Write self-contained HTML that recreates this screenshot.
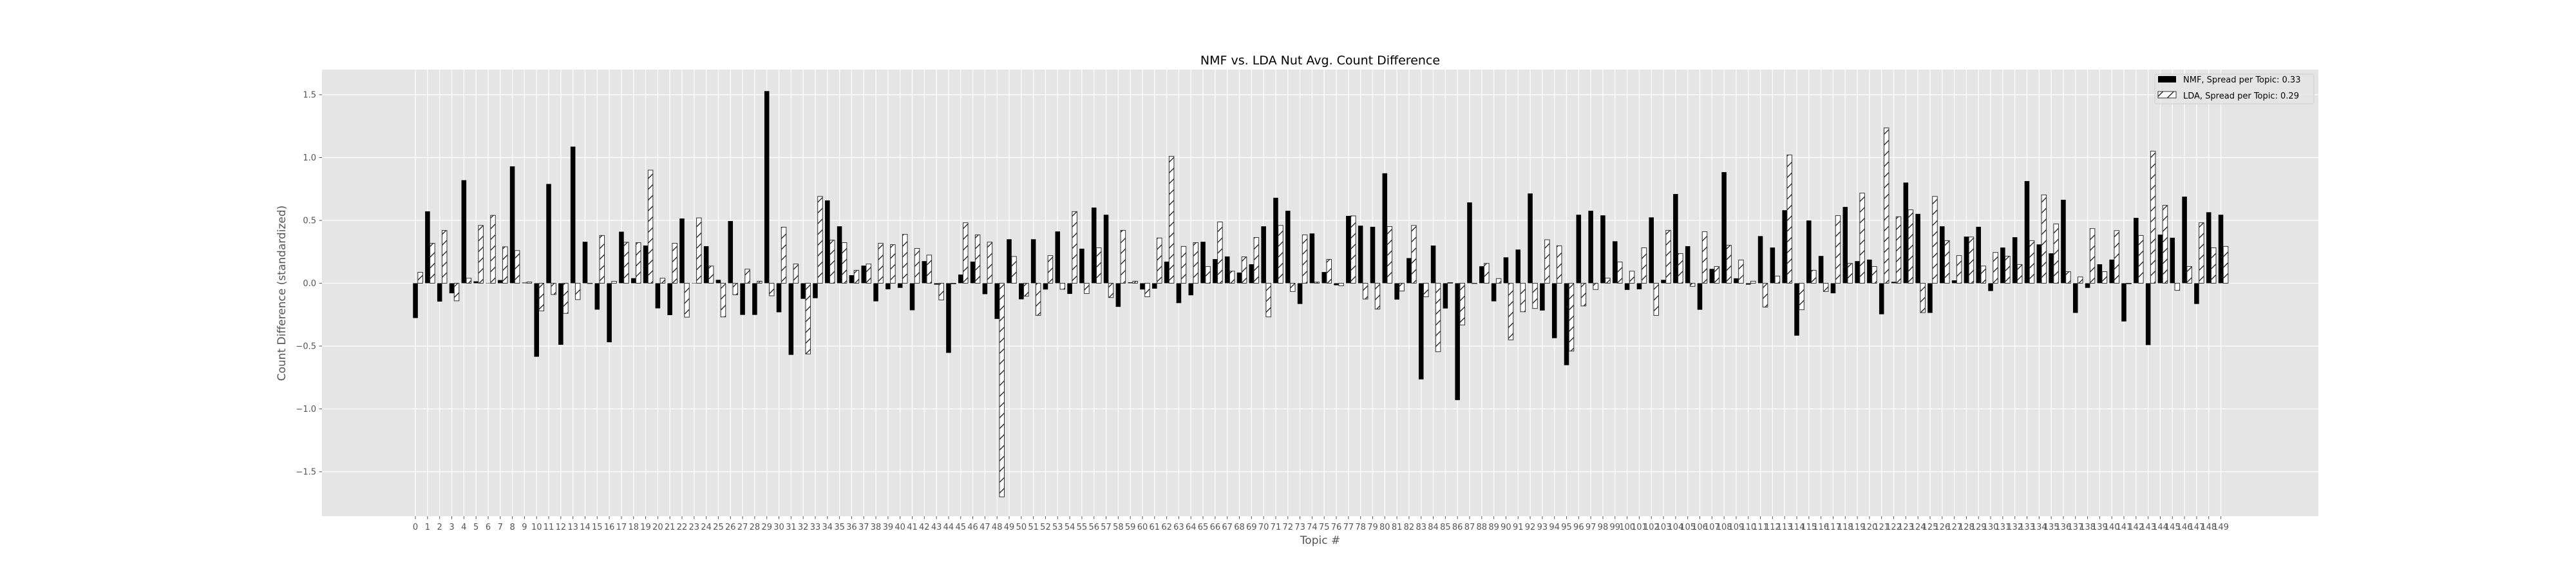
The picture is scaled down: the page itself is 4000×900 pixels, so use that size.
<!DOCTYPE html>
<html>
<head>
<meta charset="utf-8">
<style>
  html, body { margin: 0; padding: 0; background: #ffffff; }
  svg { display: block; font-family: "DejaVu Sans", "Liberation Sans", sans-serif; }
</style>
</head>
<body>
<svg id="chart" width="4000" height="900" viewBox="0 0 4000 900" xmlns="http://www.w3.org/2000/svg">
  <defs>
    <pattern id="hatch" patternUnits="userSpaceOnUse" width="16.67" height="16.67">
      <rect width="16.67" height="16.67" fill="#ffffff"/>
      <path d="M-2,2 L2,-2 M0,16.67 L16.67,0 M14.67,18.67 L18.67,14.67" stroke="#000" stroke-width="1.2"/>
    </pattern>
  </defs>
  <rect x="0" y="0" width="4000" height="900" fill="#ffffff"/>
  <rect x="500" y="108" width="3100" height="693" fill="#e5e5e5"/>
  <g id="grid"></g>
  <g id="bars"></g>
  <g id="axes"></g>
  <text x="2050" y="100" text-anchor="middle" font-size="19" fill="#000">NMF vs. LDA Nut Avg. Count Difference</text>
  <text x="2050" y="844" text-anchor="middle" font-size="17" fill="#555">Topic #</text>
  <text x="0" y="0" text-anchor="middle" font-size="17" fill="#555" transform="translate(443,455) rotate(-90)">Count Difference (standardized)</text>
  <g>
    <rect x="3346" y="115" width="247" height="46" rx="3" fill="#e5e5e5" stroke="#d0d0d0" stroke-width="1" fill-opacity="0.8"/>
    <rect x="3351" y="118" width="28" height="10" fill="#000"/>
    <text x="3390" y="128" font-size="13" fill="#000">NMF, Spread per Topic: 0.33</text>
    <rect x="3351" y="142" width="28" height="10" fill="url(#hatch)" stroke="#333" stroke-width="1"/>
    <text x="3390" y="153" font-size="13" fill="#000">LDA, Spread per Topic: 0.29</text>
  </g>
</svg>
<script>
const nmfValues = [
-0.277,0.572,-0.146,-0.08,0.82,0.015,0.0,0.025,0.93,0.005,
-0.585,0.79,-0.49,1.087,0.33,-0.21,-0.47,0.41,0.04,0.30,
-0.20,-0.254,0.515,0.0,0.295,0.027,0.495,-0.252,-0.252,1.529,
-0.231,-0.57,-0.124,-0.119,0.659,0.453,0.064,0.14,-0.144,-0.048,
-0.037,-0.215,0.176,-0.011,-0.554,0.069,0.172,-0.087,-0.284,0.35,
-0.128,0.35,-0.05,0.412,-0.085,0.275,0.602,0.545,-0.188,0.007,
-0.05,-0.043,0.172,-0.158,-0.096,0.33,0.192,0.213,0.085,0.151,
0.453,0.68,0.577,-0.165,0.396,0.089,-0.016,0.536,0.458,0.449,
0.875,-0.13,0.2,-0.765,0.30,-0.201,-0.93,0.643,0.135,-0.144,
0.206,0.268,0.714,-0.217,-0.437,-0.652,0.545,0.577,0.54,0.334,
-0.053,-0.048,0.524,0.027,0.71,0.295,-0.211,0.114,0.884,0.039,
-0.011,0.375,0.284,0.581,-0.417,0.499,0.217,-0.08,0.607,0.176,
0.188,-0.247,0.011,0.801,0.552,-0.236,0.453,0.023,0.371,0.449,
-0.062,0.284,0.366,0.813,0.309,0.238,0.664,-0.236,-0.037,0.151,
0.188,-0.304,0.52,-0.492,0.387,0.362,0.689,-0.165,0.565,0.545
];
const ldaValues = [
0.087,0.318,0.42,-0.14,0.04,0.46,0.54,0.29,0.26,0.01,
-0.22,-0.09,-0.24,-0.13,0.0,0.38,0.015,0.326,0.323,0.90,
0.04,0.318,-0.27,0.52,0.137,-0.268,-0.092,0.112,0.016,-0.10,
0.446,0.153,-0.563,0.691,0.343,0.323,0.103,0.153,0.318,0.307,
0.389,0.277,0.224,-0.133,-0.005,0.481,0.385,0.327,-1.70,0.213,
-0.103,-0.256,0.22,-0.048,0.57,-0.082,0.282,-0.114,0.421,0.016,
-0.108,0.36,1.01,0.293,0.323,0.133,0.488,0.096,0.21,0.364,
-0.268,0.46,-0.066,0.385,0.009,0.19,-0.02,0.536,-0.126,-0.206,
0.451,-0.062,0.46,-0.108,-0.545,0.005,-0.332,0.0,0.158,0.037,
-0.451,-0.227,-0.201,0.346,0.298,-0.54,-0.181,-0.05,0.041,0.169,
0.096,0.282,-0.256,0.421,0.236,-0.025,0.41,0.133,0.302,0.185,
0.016,-0.19,0.057,1.021,-0.211,0.103,-0.066,0.538,0.158,0.717,
0.133,1.236,0.529,0.584,-0.234,0.691,0.339,0.22,0.368,0.137,
0.245,0.215,0.149,0.339,0.703,0.472,0.092,0.05,0.435,0.092,
0.419,-0.005,0.38,1.051,0.62,-0.057,0.133,0.481,0.282,0.293
];
const categories = nmfValues.map((_, i) => String(i));
const yTickValues = [-1.5, -1.0, -0.5, 0.0, 0.5, 1.0, 1.5];
const yTickLabels = ["\u22121.5", "\u22121.0", "\u22120.5", "0.0", "0.5", "1.0", "1.5"];

const NS = "http://www.w3.org/2000/svg";
const plotLeft = 500, plotRight = 3600, plotTop = 108, plotBottom = 801;
const xMin = -7.71, xMax = 157.05;
const yMin = -1.854, yMax = 1.70;
function xScale(v) { return plotLeft + (v - xMin) / (xMax - xMin) * (plotRight - plotLeft); }
function yScale(v) { return plotBottom - (v - yMin) / (yMax - yMin) * (plotBottom - plotTop); }
function mk(tag, attrs, parent) {
  const el = document.createElementNS(NS, tag);
  for (const k in attrs) el.setAttribute(k, attrs[k]);
  parent.appendChild(el);
  return el;
}
const grid = document.getElementById('grid');
const bars = document.getElementById('bars');
const axes = document.getElementById('axes');
const barW = 0.4;

categories.forEach((c, i) => {
  const gx = xScale(i);
  const gl = mk('line', {x1: gx, x2: gx, y1: plotTop, y2: plotBottom, stroke: '#ffffff', 'stroke-width': 1.2}, grid);
  
  
  const tk = mk('line', {x1: gx, x2: gx, y1: plotBottom, y2: plotBottom + 4.5, stroke: '#555', 'stroke-width': 1}, axes);
  
  
  const t = mk('text', {x: gx, y: 822, 'text-anchor': 'middle', 'font-size': 13, fill: '#555'}, axes);
  t.textContent = c;
  
  
});
yTickValues.forEach((v, i) => {
  const gy = yScale(v);
  const gl = mk('line', {x1: plotLeft, x2: plotRight, y1: gy, y2: gy, stroke: '#ffffff', 'stroke-width': 1.2}, grid);
  
  
  const tk = mk('line', {x1: plotLeft - 4.5, x2: plotLeft, y1: gy, y2: gy, stroke: '#555', 'stroke-width': 1}, axes);
  
  
  const t = mk('text', {x: plotLeft - 9, y: gy + 4.5, 'text-anchor': 'end', 'font-size': 13, fill: '#555'}, axes);
  t.textContent = yTickLabels[i];
  
  
});
const y0 = yScale(0);
nmfValues.forEach((v, i) => {
  const x1 = xScale(i - barW / 2), x2 = xScale(i + barW / 2);
  const yv = yScale(v);
  const r = mk('rect', {x: x1, y: Math.min(yv, y0), width: x2 - x1, height: Math.max(Math.abs(yv - y0), 0.5), fill: '#000'}, bars);
  
  
});
ldaValues.forEach((v, i) => {
  const x1 = xScale(i + barW / 2), x2 = xScale(i + 1.5 * barW);
  const yv = yScale(v);
  const r = mk('rect', {x: x1, y: Math.min(yv, y0), width: x2 - x1, height: Math.max(Math.abs(yv - y0), 0.5), fill: 'url(#hatch)', stroke: '#333', 'stroke-width': 1}, bars);
  
  
});
</script>
</body>
</html>
